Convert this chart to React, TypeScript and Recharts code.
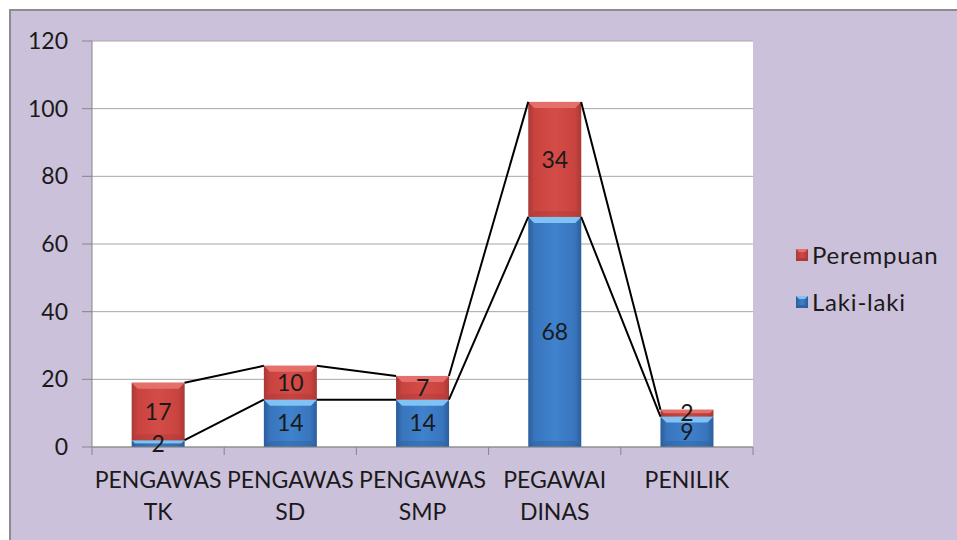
import React from 'react';
import { ComposedChart, Bar, Line, XAxis, YAxis, CartesianGrid, Legend, LabelList } from 'recharts';

const categories = ['PENGAWAS TK', 'PENGAWAS SD', 'PENGAWAS SMP', 'PEGAWAI DINAS', 'PENILIK'];
const lakiLaki = [2, 14, 14, 68, 9];
const perempuan = [17, 10, 7, 34, 2];
const yTicks = [0, 20, 40, 60, 80, 100, 120];
const boundaryTicks = [0, 1, 2, 3, 4, 5];
const legendItems = [
  { name: 'Perempuan', key: 'red' },
  { name: 'Laki-laki', key: 'blue' },
];

const FONT = 'Lato, "Open Sans", sans-serif';
const TEXT = '#1a1a1a';
const GRID = '#a6a6a6';
const AXIS = '#868686';

const data = categories.map((name, i) => ({ name, laki: lakiLaki[i], perempuan: perempuan[i] }));

const BAR_HALF = 0.2; // half bar width as a fraction of a category band (barCategoryGap 30%)
function seriesLine(tops: number[]) {
  const pts: { x: number; y: number | null }[] = [];
  for (let i = 0; i < tops.length - 1; i++) {
    pts.push({ x: i + 0.5 + BAR_HALF, y: tops[i] });
    pts.push({ x: i + 1.5 - BAR_HALF, y: tops[i + 1] });
    pts.push({ x: i + 1.5, y: null });
  }
  return pts;
}
const lakiTops = lakiLaki;
const perempuanTops = lakiLaki.map((v, i) => v + perempuan[i]);
const lakiLine = seriesLine(lakiTops);
const perempuanLine = seriesLine(perempuanTops);

const palette: Record<string, { top: string; bottom: string; grad: string }> = {
  red: { top: '#e46f6b', bottom: '#9e3431', grad: 'gradRed' },
  blue: { top: '#7fc2f3', bottom: '#2a568f', grad: 'gradBlue' },
};

const makeBevel = (key: string) => (props: any) => {
  const { x, y, width, height } = props;
  if (!height || height <= 0) return <g />;
  const c = palette[key];
  const b = Math.min(6, height / 2, width / 2);
  return (
    <g>
      <rect x={x} y={y} width={width} height={height} fill={`url(#${c.grad})`} />
      <polygon points={`${x},${y} ${x + width},${y} ${x + width - b},${y + b} ${x + b},${y + b}`} fill={c.top} />
      <polygon
        points={`${x},${y + height} ${x + width},${y + height} ${x + width - b},${y + height - b} ${x + b},${y + height - b}`}
        fill={c.bottom}
        opacity={0.3}
      />
    </g>
  );
};

const CatTick = (props: any) => {
  const { x, y, payload } = props;
  const lines = String(payload.value).split(' ');
  return (
    <text x={x} y={y} textAnchor="middle" fill={TEXT} fontSize={23} fontFamily={FONT}>
      {lines.map((l, i) => (
        <tspan key={i} x={x} y={y + 40 + i * 32}>
          {l}
        </tspan>
      ))}
    </text>
  );
};

const Marker = ({ k }: { k: string }) => {
  const c = palette[k];
  return (
    <svg width={12} height={12} style={{ display: 'block' }}>
      <defs>
        <linearGradient id={`${c.grad}L`} x1="0" y1="0" x2="1" y2="0">
          {k === 'red' ? (
            <>
              <stop offset="0" stopColor="#a83936" />
              <stop offset="0.5" stopColor="#d24b47" />
              <stop offset="1" stopColor="#a83936" />
            </>
          ) : (
            <>
              <stop offset="0" stopColor="#2b5d9b" />
              <stop offset="0.5" stopColor="#4081cc" />
              <stop offset="1" stopColor="#2b5d9b" />
            </>
          )}
        </linearGradient>
      </defs>
      <rect x={0} y={0} width={12} height={12} fill={`url(#${c.grad}L)`} />
      <polygon points="0,0 12,0 9,3 3,3" fill={c.top} />
      <polygon points="0,12 12,12 9,9 3,9" fill={c.bottom} opacity={0.6} />
    </svg>
  );
};

const renderLegend = () => (
  <div style={{ fontFamily: FONT, fontSize: 24, color: TEXT }}>
    {legendItems.map((it, i) => (
      <div
        key={it.name}
        style={{ display: 'flex', alignItems: 'center', height: 24, marginTop: i === 0 ? 0 : 23 }}
      >
        <Marker k={it.key} />
        <span style={{ marginLeft: 4, lineHeight: '24px', letterSpacing: 0.8 }}>{it.name}</span>
      </div>
    ))}
  </div>
);

export default function App() {
  return (
    <div style={{ position: 'fixed', left: 0, top: 0, width: 957, height: 540, overflow: 'hidden', background: '#fff' }}>
      <div
        style={{
          position: 'absolute',
          left: 9,
          top: 9,
          width: 980,
          height: 560,
          background: '#ccc1da',
          borderTop: '2px solid #8c8c8c',
          borderLeft: '2px solid #8c8c8c',
        }}
      />
      <div style={{ position: 'absolute', left: 0, top: 0 }}>
        <ComposedChart
          width={957}
          height={540}
          data={data}
          margin={{ top: 41, right: 204, bottom: 0, left: 32 }}
          barCategoryGap="30%"
        >
          <defs>
            <linearGradient id="gradRed" x1="0" y1="0" x2="1" y2="0">
              <stop offset="0" stopColor="#a83936" />
              <stop offset="0.12" stopColor="#c9433f" />
              <stop offset="0.5" stopColor="#d44c48" />
              <stop offset="0.88" stopColor="#c9433f" />
              <stop offset="1" stopColor="#a83936" />
            </linearGradient>
            <linearGradient id="gradBlue" x1="0" y1="0" x2="1" y2="0">
              <stop offset="0" stopColor="#2b5d9b" />
              <stop offset="0.12" stopColor="#3875bd" />
              <stop offset="0.5" stopColor="#4082cd" />
              <stop offset="0.88" stopColor="#3875bd" />
              <stop offset="1" stopColor="#2b5d9b" />
            </linearGradient>
          </defs>
          <CartesianGrid vertical={false} stroke={GRID} fill="#ffffff" xAxisId="b_names" />
          <YAxis
            domain={[0, 120]}
            ticks={yTicks}
            interval={0}
            width={60}
            tickSize={10}
            tickMargin={14}
            axisLine={{ stroke: AXIS }}
            tickLine={{ stroke: AXIS }}
            tick={{ fill: TEXT, fontSize: 23, fontFamily: FONT }}
          />
          <XAxis
            xAxisId="a_edges"
            type="number"
            dataKey="x"
            domain={[0, 5]}
            ticks={boundaryTicks}
            interval={0}
            allowDataOverflow
            height={1}
            tickSize={8}
            tickFormatter={() => ''}
            axisLine={{ stroke: AXIS }}
            tickLine={{ stroke: AXIS }}
          />
          <XAxis
            xAxisId="b_names"
            dataKey="name"
            interval={0}
            height={92}
            tickSize={0}
            tickMargin={0}
            axisLine={false}
            tickLine={false}
            tick={<CatTick />}
          />
          <Bar xAxisId="b_names" dataKey="laki" name="Laki-laki" stackId="a" fill="#4f81bd" shape={makeBevel('blue')} isAnimationActive={false}>
            <LabelList dataKey="laki" position="center" fill={TEXT} fontSize={23} fontFamily={FONT} />
          </Bar>
          <Bar xAxisId="b_names" dataKey="perempuan" name="Perempuan" stackId="a" fill="#c0504d" shape={makeBevel('red')} isAnimationActive={false}>
            <LabelList dataKey="perempuan" position="center" fill={TEXT} fontSize={23} fontFamily={FONT} />
          </Bar>
          <Line
            xAxisId="a_edges"
            data={lakiLine}
            dataKey="y"
            stroke="#000"
            strokeWidth={2}
            dot={false}
            activeDot={false}
            connectNulls={false}
            legendType="none"
            isAnimationActive={false}
          />
          <Line
            xAxisId="a_edges"
            data={perempuanLine}
            dataKey="y"
            stroke="#000"
            strokeWidth={2}
            dot={false}
            activeDot={false}
            connectNulls={false}
            legendType="none"
            isAnimationActive={false}
          />
          <Legend
            layout="vertical"
            align="center"
            verticalAlign="middle"
            wrapperStyle={{ left: 796, top: 243, width: 160 }}
            content={renderLegend}
          />
        </ComposedChart>
      </div>
    </div>
  );
}
